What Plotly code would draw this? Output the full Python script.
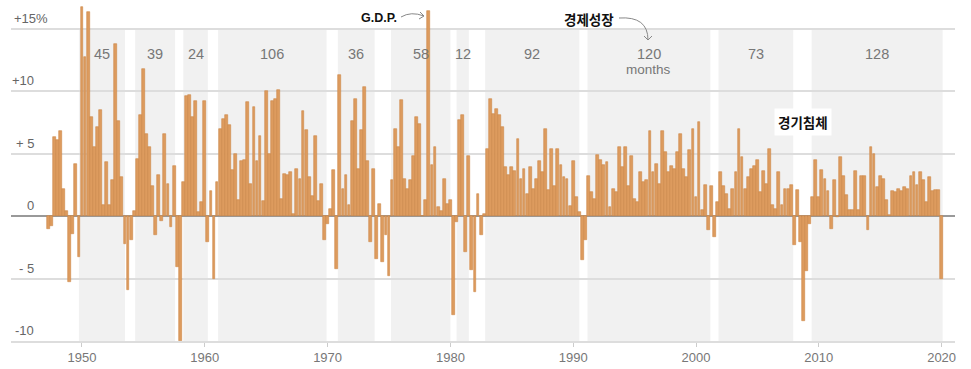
import plotly.graph_objects as go

# ---------------- data ----------------
start_year = 1947
start_quarter = 2  # first bar: 1947 Q2

gdp_growth = [
    -1.0, -0.8, 6.3,                 # 1947 Q2-Q4
    6.1, 6.8, 2.2, 0.4,              # 1948
    -5.3, -1.4, 4.2, -3.3,           # 1949
    16.7, 12.7, 16.3, 7.9,           # 1950
    5.5, 7.1, 8.5, 0.9,              # 1951
    4.3, 0.9, 2.9, 13.8,             # 1952
    7.6, 3.1, -2.2, -5.9,            # 1953
    -1.9, 0.4, 4.6, 8.1,             # 1954
    11.8, 6.6, 5.5, 2.4,             # 1955
    -1.5, 3.3, -0.4, 6.6,            # 1956
    2.6, -0.9, 4.0, -4.1,            # 1957
    -10.0, 2.7, 9.6, 9.7,            # 1958
    7.9, 9.2, 0.3, 1.1,              # 1959
    9.2, -2.1, 2.0, -5.0,            # 1960
    2.7, 7.0, 7.8, 8.1,              # 1961
    7.3, 3.7, 5.0, 1.3,              # 1962
    4.4, 4.5, 9.1, 2.6,              # 1963
    8.7, 4.4, 6.4, 1.2,              # 1964
    10.0, 5.0, 9.2, 9.4,             # 1965
    10.1, 1.4, 3.4, 3.3,             # 1966
    3.5, 0.2, 3.8, 3.0,              # 1967
    8.4, 6.9, 3.1, 1.6,              # 1968
    6.4, 1.2, 2.6, -1.9,             # 1969
    -0.6, 0.6, 3.7, -4.2,            # 1970
    11.3, 2.2, 3.3, 0.9,             # 1971
    7.6, 9.4, 3.8, 6.9,              # 1972
    10.3, 4.4, -2.1, 3.8,            # 1973
    -3.4, 1.0, -3.7, -1.5,           # 1974
    -4.8, 2.9, 7.0, 5.5,             # 1975
    9.3, 3.0, 2.2, 2.9,              # 1976
    4.8, 7.9, 7.4, 0.0,              # 1977
    1.3, 16.4, 4.1, 5.5,             # 1978
    0.7, 0.4, 3.0, 1.0,              # 1979
    1.3, -7.9, -0.5, 7.7,            # 1980
    8.1, -2.9, 4.8, -4.3,            # 1981
    -6.1, 1.8, -1.5, 0.2,            # 1982
    5.4, 9.4, 8.2, 8.6,              # 1983
    8.1, 7.1, 3.9, 3.3,              # 1984
    3.9, 3.6, 6.2, 3.0,              # 1985
    3.8, 1.8, 3.9, 2.2,              # 1986
    3.0, 4.4, 3.5, 7.0,              # 1987
    2.1, 5.4, 2.4, 5.4,              # 1988
    4.1, 3.1, 3.0, 0.8,              # 1989
    4.4, 1.5, 0.3, -3.5,             # 1990
    -1.9, 3.2, 1.9, 1.4,             # 1991
    4.9, 4.5, 4.1, 4.3,              # 1992
    0.7, 2.2, 1.9, 5.5,              # 1993
    3.9, 5.5, 2.4, 4.8,              # 1994
    1.4, 1.1, 3.5, 2.7,              # 1995
    2.9, 6.8, 3.5, 4.2,              # 1996
    2.6, 6.8, 5.1, 3.5,              # 1997
    4.0, 3.8, 5.1, 6.6,              # 1998
    3.8, 3.1, 5.3, 7.0,              # 1999
    1.5, 7.5, 0.5, 2.5,              # 2000
    -1.1, 2.4, -1.7, 1.1,            # 2001
    3.5, 2.4, 1.8, 0.6,              # 2002
    2.2, 3.5, 7.0, 4.7,              # 2003
    2.2, 3.1, 3.8, 4.0,              # 2004
    4.5, 1.9, 3.6, 2.6,              # 2005
    5.4, 0.9, 0.6, 3.5,              # 2006
    0.9, 2.2, 2.2, 2.5,              # 2007
    -2.3, 2.1, -2.1, -8.4,           # 2008
    -4.4, -0.6, 1.5, 4.5,            # 2009
    1.5, 3.7, 3.0, 2.0,              # 2010
    -1.0, 2.9, -0.1, 4.7,            # 2011
    3.2, 1.7, 0.5, 0.5,              # 2012
    3.6, 0.5, 3.2, 3.2,              # 2013
    -1.1, 5.5, 5.0, 2.3,             # 2014
    3.2, 3.0, 1.3, 0.1,              # 2015
    2.0, 1.9, 2.2, 2.0,              # 2016
    2.3, 2.2, 3.2, 3.5,              # 2017
    2.5, 3.5, 2.9, 1.1,              # 2018
    3.1, 2.0, 2.1, 2.1,              # 2019
    -5.0,                            # 2020 Q1
]

# expansions (start, end as decimal years) and their length in months
expansion_start = [1949.75, 1954.333, 1958.25, 1961.083, 1970.833, 1975.167,
                   1980.5, 1982.833, 1991.167, 2001.833, 2009.417]
expansion_end = [1953.5, 1957.583, 1960.25, 1969.917, 1973.833, 1980.0,
                 1981.5, 1990.5, 2001.167, 2007.917, 2020.083]
expansion_months = ["45", "39", "24", "106", "36", "58", "12", "92", "120", "73", "128"]

year_ticks = [1950, 1960, 1970, 1980, 1990, 2000, 2010, 2020]
y_grid = [-10, -5, 0, 5, 10, 15]
y_tick_text = ["-10", "- 5", "0", "+ 5", "+10", "+15%"]

# ---------------- geometry helpers ----------------
W, H = 971, 369
PL, PR, PT, PB = 11, 955, 5, 341           # plot area in pixels
XMIN, XMAX = 1944.22, 2021.09
YMIN, YMAX = -10.0, 16.88


def px_x(px):
    return XMIN + (px - PL) / (PR - PL) * (XMAX - XMIN)


def px_y(py):
    return YMAX - (py - PT) / (PB - PT) * (YMAX - YMIN)


quarters = [start_year + (start_quarter - 1) * 0.25 + i * 0.25 for i in range(len(gdp_growth))]

GRAY_TXT = "#777777"
FONT = "Liberation Sans, Arial, sans-serif"
KFONT = "Noto Sans CJK KR, sans-serif"

fig = go.Figure()
fig.add_trace(go.Bar(
    x=quarters, y=gdp_growth, width=0.23,
    marker=dict(color="#dd9b5e", line=dict(color="#cd8848", width=0.6)),
    hoverinfo="x+y", showlegend=False,
))

shapes = []
for s, e in zip(expansion_start, expansion_end):
    shapes.append(dict(type="rect", xref="x", yref="y", x0=s, x1=e, y0=-10, y1=15,
                       fillcolor="#f1f1f1", line=dict(width=0), layer="below"))

annotations = []
# band labels
for s, e, m in zip(expansion_start, expansion_end, expansion_months):
    annotations.append(dict(x=(s + e) / 2, y=px_y(54), xref="x", yref="y", text=m,
                            showarrow=False, font=dict(family=FONT, size=14.5, color=GRAY_TXT),
                            xanchor="center", yanchor="middle"))
annotations.append(dict(x=(expansion_start[8] + expansion_end[8]) / 2, y=px_y(69), xref="x", yref="y",
                        text="months", showarrow=False,
                        font=dict(family=FONT, size=13.5, color=GRAY_TXT),
                        xanchor="center", yanchor="middle"))

# y tick labels above gridlines
for v, t in zip(y_grid, y_tick_text):
    if t == "+15%":
        annotations.append(dict(x=0, xref="paper", y=v, yref="y", text=t, showarrow=False,
                                xanchor="left", yanchor="bottom", xshift=1, yshift=1,
                                font=dict(family=FONT, size=13, color="#666666")))
    else:
        annotations.append(dict(x=0, xref="paper", y=v, yref="y", text=t, showarrow=False,
                                xanchor="right", yanchor="bottom", xshift=25, yshift=1,
                                font=dict(family=FONT, size=13, color="#666666")))

# callouts
annotations.append(dict(x=px_x(379), y=px_y(18), xref="x", yref="y", text="<b>G.D.P.</b>",
                        showarrow=False, font=dict(family=FONT, size=12.5, color="#111111"),
                        xanchor="center", yanchor="middle"))
annotations.append(dict(x=px_x(589), y=px_y(19), xref="x", yref="y", text="<b>경제성장</b>",
                        showarrow=False, font=dict(family=KFONT, size=13.5, color="#111111"),
                        xanchor="center", yanchor="middle"))
annotations.append(dict(x=px_x(803), y=px_y(122), xref="x", yref="y", text="<b>경기침체</b>",
                        showarrow=False, font=dict(family=KFONT, size=13.5, color="#111111"),
                        xanchor="center", yanchor="middle", bgcolor="#ffffff", borderpad=3))


def path_px(points, cmd):
    return cmd.format(*[v for p in points for v in (px_x(p[0]), px_y(p[1]))])


arrow_col = "#888888"
# G.D.P. arrow
shapes.append(dict(type="path", xref="x", yref="y",
                   path=path_px([(401, 17), (411, 11), (424, 16)], "M {0},{1} Q {2},{3} {4},{5}"),
                   line=dict(color=arrow_col, width=1)))
shapes.append(dict(type="path", xref="x", yref="y",
                   path=path_px([(420, 12), (424, 16), (419, 19)], "M {0},{1} L {2},{3} L {4},{5}"),
                   line=dict(color=arrow_col, width=1)))
# 경제성장 arrow
shapes.append(dict(type="path", xref="x", yref="y",
                   path=path_px([(619, 18), (648, 16), (648, 40)], "M {0},{1} Q {2},{3} {4},{5}"),
                   line=dict(color=arrow_col, width=1)))
shapes.append(dict(type="path", xref="x", yref="y",
                   path=path_px([(644, 36), (648, 40), (652, 36)], "M {0},{1} L {2},{3} L {4},{5}"),
                   line=dict(color=arrow_col, width=1)))

fig.update_layout(
    width=W, height=H,
    margin=dict(l=PL, r=W - PR, t=PT, b=H - PB, pad=0),
    paper_bgcolor="white", plot_bgcolor="white",
    bargap=0, shapes=shapes, annotations=annotations,
    xaxis=dict(range=[XMIN, XMAX], tickvals=year_ticks, ticktext=[str(y) for y in year_ticks],
               showgrid=False, zeroline=False, showline=True, linecolor="#dddddd", linewidth=1.5,
               ticks="outside", ticklen=4, tickcolor="#cccccc", tickwidth=1,
               tickfont=dict(family=FONT, size=13, color=GRAY_TXT), fixedrange=True),
    yaxis=dict(range=[YMIN, YMAX], tickvals=y_grid, showticklabels=False,
               showgrid=True, gridcolor="#dddddd", gridwidth=1.5,
               zeroline=True, zerolinecolor="#999999", zerolinewidth=1.5, fixedrange=True),
)

fig.write_html(
    "out.html",
    config={"displayModeBar": False},
    post_script="document.body.style.margin='0';document.body.style.overflow='hidden';",
)
